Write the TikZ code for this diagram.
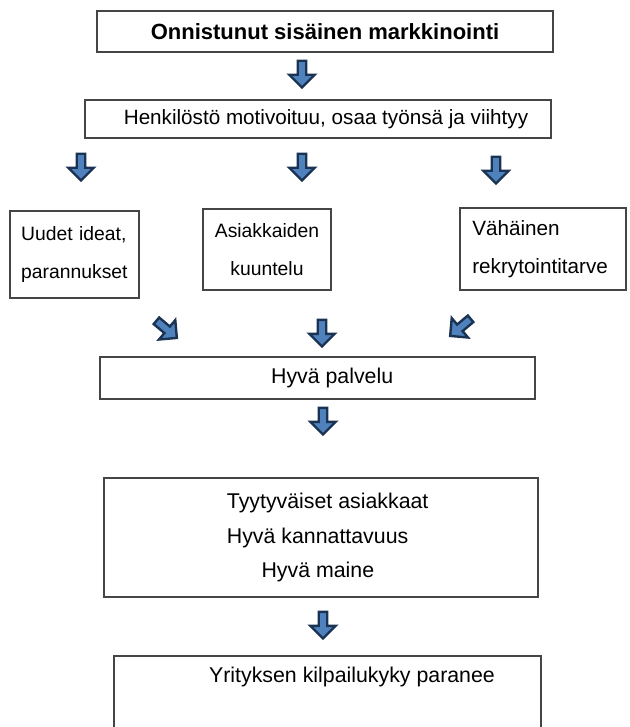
\documentclass[tikz,border=0pt]{standalone}
\usepackage{fontspec}
\setmainfont{Liberation Sans}
\usetikzlibrary{shapes.arrows}
\definecolor{boxline}{HTML}{454545}
\definecolor{arrowfill}{HTML}{4F81BD}
\definecolor{arrowline}{HTML}{1B3352}
\tikzset{
  box/.style={rectangle,draw=boxline,line width=0.9pt,inner sep=0pt,align=center,font=\fontsize{15.5}{19}\selectfont},
  sidebox/.style={box,align=left,text width=#1,font=\fontsize{14.5}{29}\selectfont},
  middlebox/.style={box,font=\fontsize{14.5}{29}\selectfont},
  resultbox/.style={box,align=left,font=\fontsize{16}{26}\selectfont},
  boxtext/.style={inner sep=0pt,font=\fontsize{16}{19}\selectfont},
  blockarrow/.style={single arrow,draw=arrowline,fill=arrowfill,line width=1.8pt,minimum height=20pt,inner xsep=0pt,inner ysep=2.3pt,single arrow head extend=6.3pt,rotate=#1},
  blockarrow/.default=-90
}
\begin{document}
\begin{tikzpicture}[x=0.75pt,y=-0.75pt]
\useasboundingbox (0,0) rectangle (629,727);
\node[box,minimum width=342pt,minimum height=30.75pt,font=\fontsize{16.5}{19}\selectfont] (onnistunut) at (325,31.5) {\textbf{Onnistunut sisäinen markkinointi}};
\node[box,minimum width=349.5pt,minimum height=28.5pt] (henkilosto) at (318,119) {\hspace*{12pt}Henkilöstö motivoituu, osaa työnsä ja viihtyy};
\node[sidebox=80pt,minimum width=96.75pt,minimum height=65.25pt] (ideat) at (74.5,254.5) {Uudet ideat,\\parannukset};
\node[middlebox,minimum width=96pt,minimum height=60.75pt] (kuuntelu) at (267,249.5) {Asiakkaiden\\kuuntelu};
\node[sidebox=106pt,minimum width=124.5pt,minimum height=61.5pt,font=\fontsize{15.5}{29}\selectfont] (rekry) at (543,249) {Vähäinen\\rekrytointitarve};
\node[box,minimum width=326.25pt,minimum height=31.5pt,font=\fontsize{16}{19}\selectfont] (palvelu) at (317.5,378) {\hspace*{22pt}Hyvä palvelu};
\node[resultbox,minimum width=325.5pt,minimum height=89.25pt] (tulos) at (321,537.5) {\hspace*{10pt}Tyytyväiset asiakkaat\\\hspace*{10pt}Hyvä kannattavuus\\\hspace*{36pt}Hyvä maine};
\node[boxtext] (kilpailukyky) at (352,677) {Yrityksen kilpailukyky paranee};
\draw[boxline,line width=0.9pt] (114,735) -- (114,656) -- (541,656) -- (541,735);
\node[blockarrow] (nuoli1) at (302,72) {};
\node[blockarrow] (nuoli2) at (81,165) {};
\node[blockarrow] (nuoli3) at (302,165) {};
\node[blockarrow] (nuoli4) at (496,168) {};
\node[blockarrow=-40] (nuoli5) at (165,328) {};
\node[blockarrow] (nuoli6) at (322,331) {};
\node[blockarrow=-140] (nuoli7) at (462,326) {};
\node[blockarrow] (nuoli8) at (323,419) {};
\node[blockarrow] (nuoli9) at (323,623) {};
\end{tikzpicture}
\end{document}
